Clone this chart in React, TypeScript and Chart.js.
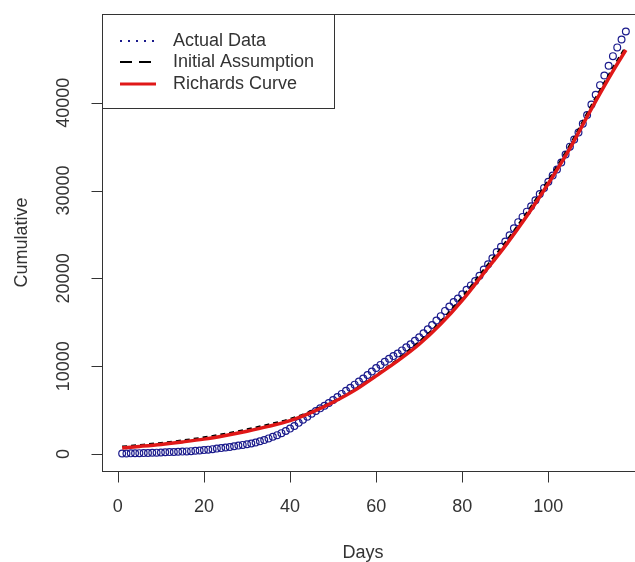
import React, { useEffect, useRef } from "react";
import { Chart, registerables } from "chart.js";

Chart.register(...registerables);

// Actual cumulative data, days 1..118
const actualCumulative = [
  60, 70, 80, 90, 100, 110, 120, 140, 160, 180,
  200, 220, 240, 260, 280, 300, 330, 370, 410, 450,
  500, 560, 620, 680, 740, 810, 880, 960, 1040, 1120,
  1200, 1320, 1450, 1600, 1780, 1960, 2150, 2380, 2620, 2900,
  3200, 3550, 3900, 4250, 4600, 4900, 5200, 5500, 5800, 6150,
  6500, 6850, 7200, 7550, 7900, 8250, 8600, 9000, 9400, 9800,
  10150, 10500, 10850, 11150, 11450, 11800, 12150, 12500, 12900, 13300,
  13750, 14200, 14700, 15200, 15700, 16300, 16800, 17300, 17700, 18200,
  18700, 19200, 19700, 20300, 21000, 21600, 22300, 23000, 23600, 24200,
  24900, 25700, 26400, 27000, 27600, 28200, 28900, 29600, 30300, 31000,
  31700, 32400, 33200, 34100, 35000, 35800, 36600, 37600, 38600, 39800,
  40900, 42000, 43100, 44200, 45300, 46300, 47200, 48100,
];

// Fitted curves sampled at these days
const curveDays = [1, 5, 10, 15, 20, 25, 30, 35, 40, 45, 50, 55, 60, 65, 70, 75, 80, 85, 90, 95, 100, 105, 110, 115, 118];
const richardsCurve = [700, 870, 1100, 1380, 1700, 2120, 2600, 3150, 3800, 4750, 5900, 7250, 8900, 10600, 12500, 14800, 17500, 20600, 23700, 27100, 30800, 34800, 39300, 43600, 46000];
const initialAssumption = [850, 1030, 1270, 1560, 1900, 2330, 2820, 3370, 4000, 4900, 6000, 7350, 9000, 10800, 12800, 15100, 17900, 21000, 24100, 27500, 31200, 35200, 39700, 44000, 46400];

const xTicks = [0, 20, 40, 60, 80, 100];
const yTicks = [0, 10000, 20000, 30000, 40000];
const xTitle = "Days";
const yTitle = "Cumulative";
const legendLabels = ["Actual Data", "Initial Assumption", "Richards Curve"];

const BLUE = "#1a1a8c";
const RED = "#e01818";
const INK = "#333333";
const FONT = '18px "Liberation Sans", Arial, sans-serif';

const rAxesPlugin = {
  id: "rAxes",
  afterDraw(chart: any) {
    const ctx = chart.ctx as CanvasRenderingContext2D;
    const area = chart.chartArea;
    const xs = chart.scales.x;
    const ys = chart.scales.y;
    ctx.save();
    ctx.strokeStyle = INK;
    ctx.lineWidth = 1;
    // box
    ctx.strokeRect(Math.round(area.left) + 0.5, Math.round(area.top) + 0.5, area.right - area.left, area.bottom - area.top);
    ctx.fillStyle = INK;
    ctx.font = FONT;
    // x ticks
    const by = Math.round(area.bottom) + 0.5;
    ctx.beginPath();
    xTicks.forEach((t) => {
      const px = Math.round(xs.getPixelForValue(t)) + 0.5;
      ctx.moveTo(px, by);
      ctx.lineTo(px, by + 11);
    });
    ctx.stroke();
    ctx.textAlign = "center";
    ctx.textBaseline = "middle";
    xTicks.forEach((t) => {
      ctx.fillText(String(t), xs.getPixelForValue(t), 507);
    });
    // y ticks
    const lx = Math.round(area.left) + 0.5;
    ctx.beginPath();
    yTicks.forEach((t) => {
      const py = Math.round(ys.getPixelForValue(t)) + 0.5;
      ctx.moveTo(lx, py);
      ctx.lineTo(lx - 11, py);
    });
    ctx.stroke();
    yTicks.forEach((t) => {
      const py = ys.getPixelForValue(t);
      ctx.save();
      ctx.translate(64, py);
      ctx.rotate(-Math.PI / 2);
      ctx.fillText(String(t), 0, 0);
      ctx.restore();
    });
    // titles
    ctx.fillText(xTitle, 363, 553);
    ctx.save();
    ctx.translate(22, (area.top + area.bottom) / 2);
    ctx.rotate(-Math.PI / 2);
    ctx.fillText(yTitle, 0, 0);
    ctx.restore();

    // legend
    const L = Math.round(area.left) + 0.5;
    const T = Math.round(area.top) + 0.5;
    ctx.fillStyle = "#ffffff";
    ctx.fillRect(L, T, 232, 94);
    ctx.strokeStyle = INK;
    ctx.lineWidth = 1;
    ctx.strokeRect(L, T, 232, 94);
    const rows = [41, 62, 84];
    const styles = [
      { color: BLUE, dash: [2, 6], width: 2 },
      { color: "#000000", dash: [12, 7], width: 2 },
      { color: RED, dash: [], width: 3 },
    ];
    rows.forEach((ry, i) => {
      const s = styles[i];
      ctx.beginPath();
      ctx.setLineDash(s.dash);
      ctx.strokeStyle = s.color;
      ctx.lineWidth = s.width;
      ctx.moveTo(120, ry);
      ctx.lineTo(156, ry);
      ctx.stroke();
      ctx.setLineDash([]);
      ctx.fillStyle = INK;
      ctx.textAlign = "left";
      ctx.textBaseline = "middle";
      ctx.fillText(legendLabels[i], 173, ry);
    });
    ctx.restore();
  },
};

export default function App() {
  const ref = useRef<HTMLCanvasElement | null>(null);
  useEffect(() => {
    if (!ref.current) return;
    const actualPoints = actualCumulative.map((v, i) => ({ x: i + 1, y: v }));
    const richPoints = curveDays.map((d, i) => ({ x: d, y: richardsCurve[i] }));
    const initPoints = curveDays.map((d, i) => ({ x: d, y: initialAssumption[i] }));
    const chart = new Chart(ref.current, {
      type: "scatter",
      data: {
        datasets: [
          {
            label: legendLabels[2],
            data: richPoints,
            showLine: true,
            borderColor: RED,
            borderWidth: 3.5,
            pointRadius: 0,
            cubicInterpolationMode: "monotone",
            order: 1,
          } as any,
          {
            label: legendLabels[1],
            data: initPoints,
            showLine: true,
            borderColor: "#000000",
            borderWidth: 2,
            borderDash: [5, 4],
            pointRadius: 0,
            cubicInterpolationMode: "monotone",
            order: 2,
          } as any,
          {
            label: legendLabels[0],
            data: actualPoints,
            showLine: false,
            borderColor: BLUE,
            backgroundColor: "rgba(0,0,0,0)",
            borderWidth: 1.2,
            pointRadius: 3.4,
            pointStyle: "circle",
            order: 3,
          },
        ],
      },
      options: {
        animation: false,
        responsive: false,
        maintainAspectRatio: false,
        layout: { padding: { left: 102, top: 14, right: 14, bottom: 91 } },
        plugins: { legend: { display: false }, tooltip: { enabled: false } },
        scales: {
          x: { type: "linear", min: -3.68, max: 122.68, display: false },
          y: { type: "linear", min: -1930, max: 50100, display: false },
        },
      },
      plugins: [rAxesPlugin],
    });
    return () => chart.destroy();
  }, []);
  return (
    <div style={{ position: "absolute", left: 0, top: 0, width: 635, height: 562, overflow: "hidden", background: "#fff" }}>
      <canvas ref={ref} width={660} height={562} style={{ width: 660, height: 562, display: "block" }} />
    </div>
  );
}
